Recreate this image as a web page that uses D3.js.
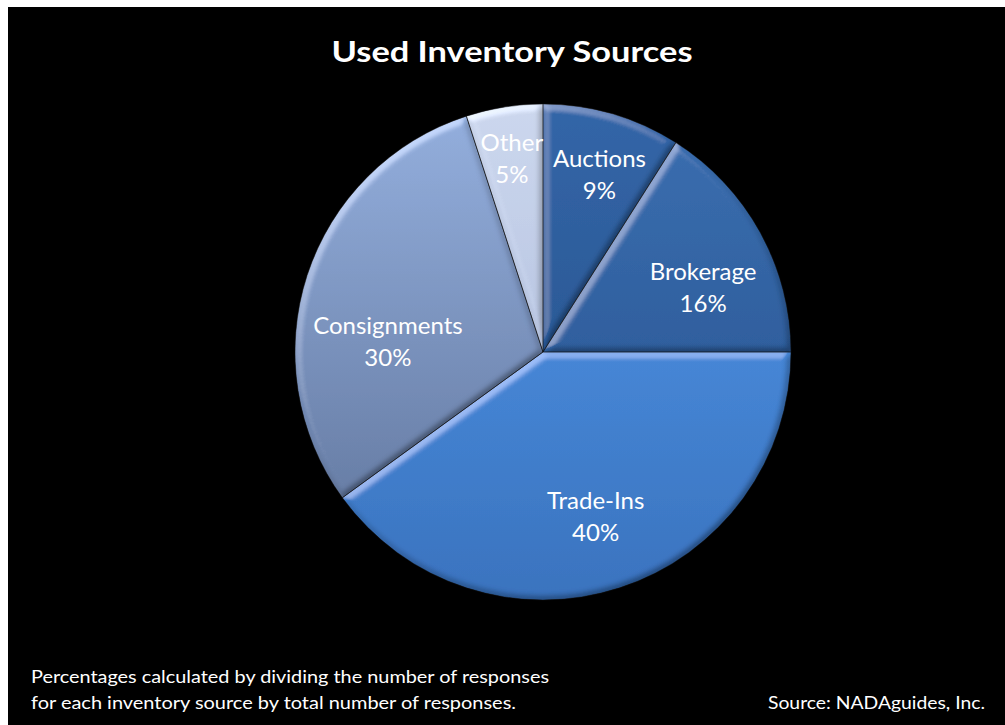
<!DOCTYPE html>
<html>
<head>
<meta charset="utf-8">
<script src="https://cdn.jsdelivr.net/npm/d3@7"></script>
<style>
  html, body { margin: 0; padding: 0; background: #fff; }
  svg { display: block; }
  text { font-family: Lato, "Open Sans", sans-serif; fill: #fff; }
</style>
</head>
<body>
<svg id="chart" width="1005" height="725"></svg>
<script>
// Inventory sources, clockwise from 12 o'clock
const categories = ["Auctions", "Brokerage", "Trade-Ins", "Consignments", "Other"];
const shares = [9, 16, 40, 30, 5];
const sliceTop = ["#3366a8", "#3a6dae", "#4686d6", "#93aedd", "#cdd8ee"];
const sliceBottom = ["#2b5996", "#2f5f9e", "#3a73bf", "#687ea6", "#b9c6e2"];

const title = "Used Inventory Sources";
const noteLines = [
  "Percentages calculated by dividing the number of responses",
  "for each inventory source by total number of responses."
];
const sourceNote = "Source: NADAguides, Inc.";

const svg = d3.select("#chart");
const W = 1005, H = 725;

// black panel
svg.append("rect").attr("x", 8).attr("y", 7).attr("width", W - 8).attr("height", H - 7).attr("fill", "#000");

const defs = svg.append("defs");
categories.forEach((c, i) => {
  const g = defs.append("linearGradient").attr("id", "grad" + i)
    .attr("x1", 0).attr("y1", 0).attr("x2", 0).attr("y2", 1);
  g.append("stop").attr("offset", "0%").attr("stop-color", sliceTop[i]);
  g.append("stop").attr("offset", "100%").attr("stop-color", sliceBottom[i]);
});

// soft bevel lit from the upper left: highlights are added, shadows multiply,
// so flat areas keep their own colour
const flat = Math.SQRT1_2;
const f = defs.append("filter").attr("id", "bevel")
  .attr("x", "-5%").attr("y", "-5%").attr("width", "110%").attr("height", "110%");
f.append("feGaussianBlur").attr("in", "SourceAlpha").attr("stdDeviation", 3.5).attr("result", "blur");
f.append("feDiffuseLighting").attr("in", "blur").attr("surfaceScale", 5)
  .attr("diffuseConstant", 1).attr("lighting-color", "#fff").attr("result", "light")
  .append("feDistantLight").attr("azimuth", 235).attr("elevation", 45);

const hi = f.append("feComponentTransfer").attr("in", "light").attr("result", "hi");
["feFuncR", "feFuncG", "feFuncB"].forEach(fn =>
  hi.append(fn).attr("type", "linear").attr("slope", 0.9).attr("intercept", -0.9 * flat));
const sh = f.append("feComponentTransfer").attr("in", "light").attr("result", "sh");
["feFuncR", "feFuncG", "feFuncB"].forEach(fn =>
  sh.append(fn).attr("type", "linear").attr("slope", 0.75).attr("intercept", 1 - 0.75 * flat));

f.append("feComposite").attr("in", "SourceGraphic").attr("in2", "hi")
  .attr("operator", "arithmetic").attr("k1", 0).attr("k2", 1).attr("k3", 1).attr("k4", 0)
  .attr("result", "lit");
f.append("feBlend").attr("in", "lit").attr("in2", "sh").attr("mode", "multiply").attr("result", "shaded");
f.append("feComposite").attr("in", "shaded").attr("in2", "SourceAlpha").attr("operator", "in");

const cx = 543, cy = 352, R = 248;

const pie = d3.pie().value(d => d.value).sort(null);
const arcs = pie(categories.map((c, i) => ({ name: c, value: shares[i], idx: i })));
const arc = d3.arc().innerRadius(0).outerRadius(R);
const labelArc = d3.arc().innerRadius(R * 0.7).outerRadius(R * 0.7);

// placement tweaks for individual labels
const labelNudge = {
  "Auctions": [8, -12], "Brokerage": [8, 18], "Trade-Ins": [-1, -2],
  "Consignments": [10, 42], "Other": [-4, -24]
};

const pieG = svg.append("g").attr("transform", `translate(${cx},${cy})`);

pieG.selectAll("path.slice").data(arcs).join("path")
  .attr("class", "slice")
  .attr("d", arc)
  .attr("fill", d => `url(#grad${d.data.idx})`)
  .attr("filter", "url(#bevel)");

pieG.selectAll("path.seam").data(arcs).join("path")
  .attr("class", "seam")
  .attr("d", arc)
  .attr("fill", "none")
  .attr("stroke", "rgba(20,20,20,0.45)")
  .attr("stroke-width", 1);

const labels = pieG.selectAll("g.label").data(arcs).join("g")
  .attr("class", "label")
  .attr("transform", d => {
    const [x, y] = labelArc.centroid(d);
    const n = labelNudge[d.data.name];
    return `translate(${x + n[0]},${y + n[1]})`;
  });
labels.append("text").attr("text-anchor", "middle").attr("y", -6)
  .style("font-size", "24px").text(d => d.data.name);
labels.append("text").attr("text-anchor", "middle").attr("y", 26)
  .style("font-size", "24px").text(d => d.data.value + "%");

svg.append("text").attr("x", 512).attr("y", 62).attr("text-anchor", "middle")
  .attr("textLength", 361).attr("lengthAdjust", "spacingAndGlyphs")
  .style("font-size", "29px").style("font-weight", "bold").text(title);

const noteWidths = [518, 485];
svg.selectAll("text.note").data(noteLines).join("text")
  .attr("class", "note")
  .attr("x", 31).attr("y", (d, i) => 683 + i * 26)
  .attr("textLength", (d, i) => noteWidths[i]).attr("lengthAdjust", "spacingAndGlyphs")
  .style("font-size", "18px").text(d => d);

svg.append("text").attr("x", 985).attr("y", 709).attr("text-anchor", "end")
  .attr("textLength", 217).attr("lengthAdjust", "spacingAndGlyphs")
  .style("font-size", "18px").text(sourceNote);
</script>
</body>
</html>
